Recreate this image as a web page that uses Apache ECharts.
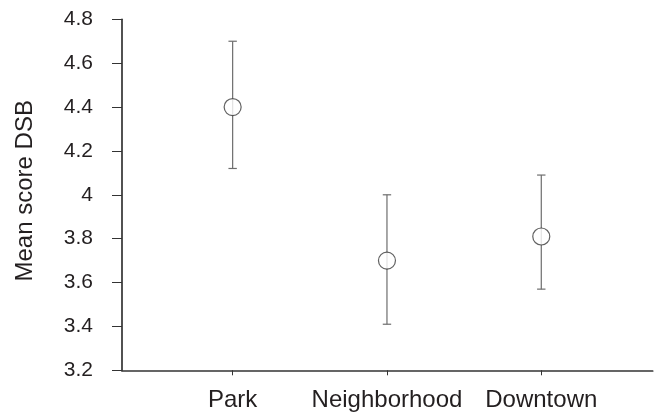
<!DOCTYPE html>
<html><head><meta charset="utf-8">
<script src="https://cdn.jsdelivr.net/npm/echarts@6/dist/echarts.min.js"></script>
<style>html,body{margin:0;padding:0;background:#fff}#c{width:659px;height:414px}</style>
</head><body><div id="c"></div>
<script>
const categories = ["Park", "Neighborhood", "Downtown"];
const means = [4.40, 3.70, 3.81];
const upper = [4.70, 4.00, 4.09];
const lower = [4.12, 3.41, 3.57];
const yTicks = [3.2, 3.4, 3.6, 3.8, 4, 4.2, 4.4, 4.6, 4.8];

const positions = categories.map((c, i) => i + 1);
const errData = positions.map((p, i) => [p, lower[i], upper[i]]);
const ptData = positions.map((p, i) => [p, means[i]]);

const chart = echarts.init(document.getElementById('c'));
const txt = '#231f20';
const ff = 'Liberation Sans, Arial, Helvetica, sans-serif';
chart.setOption({
  animation: false,
  grid: { left: 122, right: 6.3, top: 19.3, bottom: 43.7 },
  xAxis: {
    type: 'value', min: 0.283, max: 3.722,
    splitLine: { show: false },
    axisLine: { lineStyle: { color: '#333', width: 1.7 } },
    axisTick: { show: true, length: 5, customValues: positions, lineStyle: { color: '#333' } },
    axisLabel: {
      customValues: positions, margin: 18, fontSize: 24, color: txt,
      fontFamily: ff,
      formatter: v => categories[Math.round(v) - 1] || ''
    }
  },
  yAxis: {
    type: 'value', min: yTicks[0], max: yTicks[yTicks.length - 1], interval: 0.2,
    name: 'Mean score DSB', nameLocation: 'middle', nameGap: 85,
    nameTextStyle: { fontSize: 24, color: txt, fontFamily: ff, padding: [0, 0, 0, 8] },
    splitLine: { show: false },
    axisLine: { show: true, lineStyle: { color: '#333', width: 1.7 } },
    axisTick: { show: true, length: 10, lineStyle: { color: '#333' } },
    axisLabel: {
      margin: 29, fontSize: 21, color: txt,
      fontFamily: ff,
      formatter: v => String(Math.round(v * 10) / 10)
    }
  },
  series: [
    {
      type: 'custom',
      data: errData,
      renderItem: (params, api) => {
        const x = api.value(0);
        const lo = api.coord([x, api.value(1)]);
        const hi = api.coord([x, api.value(2)]);
        const hw = 4.2;
        const style = { stroke: '#6d6d6d', lineWidth: 1.2 };
        return {
          type: 'group',
          children: [
            { type: 'line', shape: { x1: hi[0], y1: hi[1], x2: lo[0], y2: lo[1] }, style },
            { type: 'line', shape: { x1: hi[0] - hw, y1: hi[1], x2: hi[0] + hw, y2: hi[1] }, style },
            { type: 'line', shape: { x1: lo[0] - hw, y1: lo[1], x2: lo[0] + hw, y2: lo[1] }, style }
          ]
        };
      },
      z: 1
    },
    {
      type: 'scatter',
      data: ptData,
      symbol: 'circle',
      symbolSize: 17,
      itemStyle: { color: '#fff', borderColor: '#3a3a3a', borderWidth: 1.2 },
      z: 3
    }
  ]
});
</script></body></html>
